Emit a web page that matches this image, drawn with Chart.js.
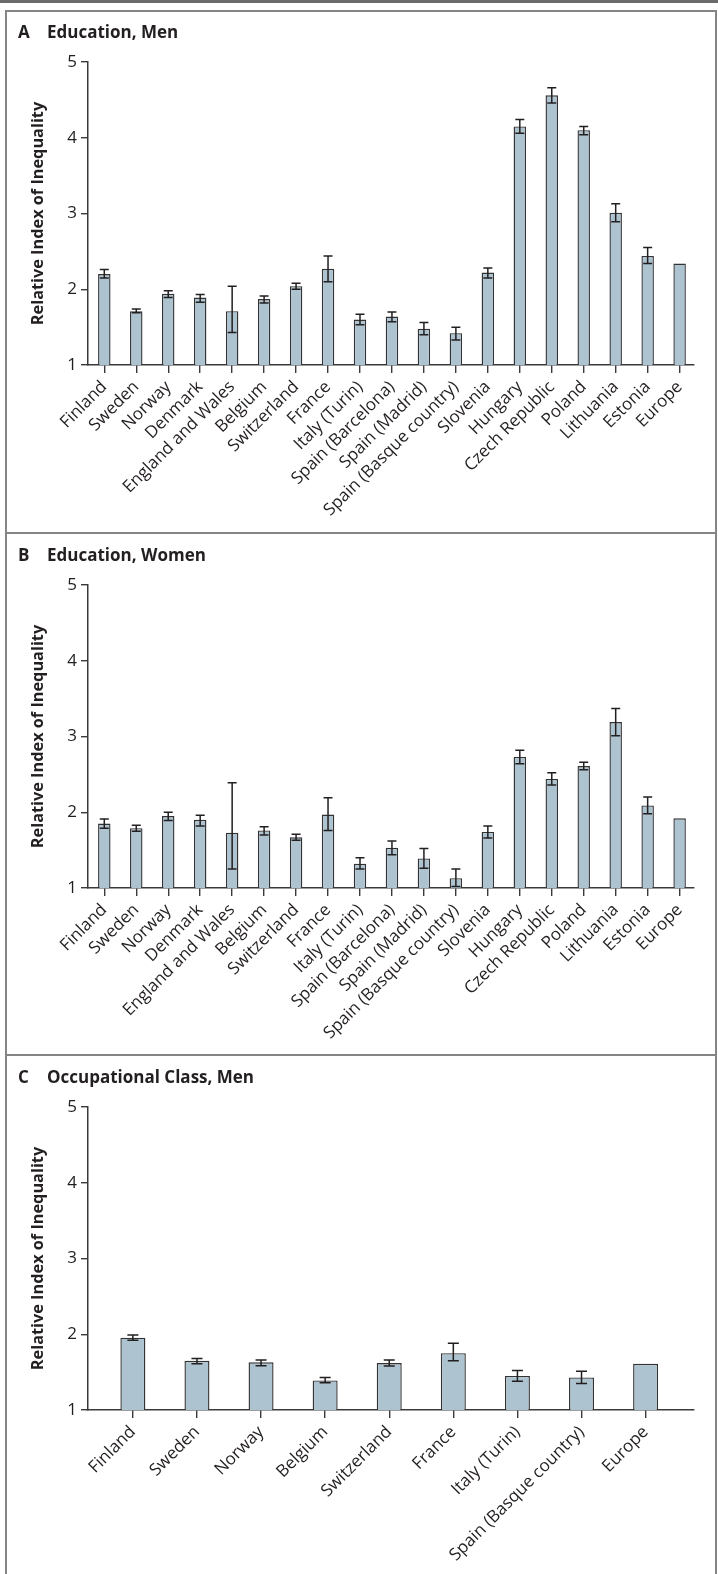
<!DOCTYPE html>
<html>
<head>
<meta charset="utf-8">
<script src="https://cdn.jsdelivr.net/npm/chart.js@4.4.1/dist/chart.umd.min.js"></script>
<style>
  html, body { margin:0; padding:0; background:#fff; }
  body { width:718px; height:1574px; position:relative; overflow:hidden; font-family:"Open Sans", sans-serif; color:#231f20; }
  .topline { position:absolute; left:0; top:0; width:718px; height:3px; background:#6b6b6b; }
  .frame { position:absolute; left:5px; top:10px; width:712px; height:1570px; box-sizing:border-box; border:2px solid #858585; border-bottom:none; }
  .divider { position:absolute; left:5px; width:712px; height:2px; background:#858585; }
  .panel { position:absolute; left:0; width:718px; }
  .panel canvas { position:absolute; left:0; top:0; }
  .title { position:absolute; top:11px; left:0; font-size:17px; font-weight:700; line-height:22px; white-space:nowrap; }
  .title .letter { position:absolute; left:18px; }
  .title .text { position:absolute; left:47px; }
</style>
</head>
<body>
<div class="topline"></div>
<div class="frame"></div>
<div class="divider" style="top:532px"></div>
<div class="divider" style="top:1054px"></div>

<div class="panel" style="top:10px;height:523px">
  <canvas id="chart-a" width="718" height="523"></canvas>
  <div class="title"><span class="letter">A</span><span class="text">Education, Men</span></div>
</div>
<div class="panel" style="top:533px;height:522px">
  <canvas id="chart-b" width="718" height="522"></canvas>
  <div class="title"><span class="letter">B</span><span class="text">Education, Women</span></div>
</div>
<div class="panel" style="top:1055px;height:519px">
  <canvas id="chart-c" width="718" height="519"></canvas>
  <div class="title"><span class="letter">C</span><span class="text">Occupational Class, Men</span></div>
</div>

<script>
// ── Data ────────────────────────────────────────────────────────────────────
const COUNTRIES_EDU = [
  "Finland","Sweden","Norway","Denmark","England and Wales","Belgium","Switzerland","France",
  "Italy (Turin)","Spain (Barcelona)","Spain (Madrid)","Spain (Basque country)","Slovenia",
  "Hungary","Czech Republic","Poland","Lithuania","Estonia","Europe"
];
const COUNTRIES_OCC = [
  "Finland","Sweden","Norway","Belgium","Switzerland","France","Italy (Turin)","Spain (Basque country)","Europe"
];
const Y_TICKS = [1, 2, 3, 4, 5];

// A. Education, men
const EDU_MEN     = [2.20,1.71,1.94,1.89,1.71,1.87,2.04,2.27,1.60,1.64,1.48,1.42,2.22,4.15,4.56,4.10,3.01,2.44,2.34];
const EDU_MEN_LO  = [2.15,1.69,1.89,1.83,1.43,1.82,2.00,2.10,1.53,1.57,1.40,1.33,2.15,4.06,4.46,4.04,2.89,2.34,null];
const EDU_MEN_HI  = [2.26,1.74,1.98,1.93,2.04,1.91,2.08,2.44,1.67,1.70,1.56,1.50,2.28,4.24,4.66,4.15,3.13,2.55,null];

// B. Education, women
const EDU_WOMEN    = [1.85,1.79,1.95,1.90,1.73,1.76,1.67,1.97,1.32,1.53,1.39,1.13,1.74,2.73,2.44,2.61,3.19,2.09,1.92];
const EDU_WOMEN_LO = [1.79,1.75,1.89,1.82,1.25,1.70,1.63,1.76,1.25,1.44,1.26,1.02,1.66,2.64,2.36,2.56,3.01,1.98,null];
const EDU_WOMEN_HI = [1.91,1.83,2.00,1.96,2.39,1.81,1.71,2.19,1.40,1.62,1.52,1.25,1.82,2.82,2.52,2.66,3.37,2.20,null];

// C. Occupational class, men
const OCC_MEN    = [1.955,1.65,1.63,1.39,1.62,1.75,1.45,1.43,1.61];
const OCC_MEN_LO = [1.92,1.61,1.585,1.36,1.58,1.65,1.38,1.35,null];
const OCC_MEN_HI = [1.99,1.68,1.66,1.43,1.66,1.88,1.52,1.51,null];

// ── Style ───────────────────────────────────────────────────────────────────
const INK = "#231f20";
const AXIS = "#3a3a3a";
const BAR_FILL = "#adc4d0";

Chart.defaults.font.family = "'Open Sans', sans-serif";
Chart.defaults.color = INK;

// error bars drawn through the y scale
const errorBars = {
  id: "errorBars",
  afterDatasetsDraw(chart, args, opts) {
    const { ctx } = chart;
    const y = chart.scales.y;
    const meta = chart.getDatasetMeta(0);
    ctx.save();
    ctx.strokeStyle = INK;
    ctx.lineWidth = 1.5;
    meta.data.forEach((bar, i) => {
      const lo = opts.lo[i], hi = opts.hi[i];
      if (lo == null || hi == null) return;
      const x = bar.x, y1 = y.getPixelForValue(lo), y2 = y.getPixelForValue(hi), w = opts.cap / 2;
      ctx.beginPath();
      ctx.moveTo(x, y1); ctx.lineTo(x, y2);
      ctx.moveTo(x - w, y1); ctx.lineTo(x + w, y1);
      ctx.moveTo(x - w, y2); ctx.lineTo(x + w, y2);
      ctx.stroke();
    });
    ctx.restore();
  }
};

function renderPanel(id, labels, values, lo, hi, xMin, xMax, cap) {
  const canvas = document.getElementById(id);
  const h = canvas.height;
  const areaBottom = 355;
  return new Chart(canvas.getContext("2d"), {
    type: "bar",
    data: {
      datasets: [{
        data: values.map((v, i) => ({ x: i, y: v })),
        backgroundColor: BAR_FILL,
        borderColor: "#333",
        borderWidth: 1.4,
        borderSkipped: false,
        categoryPercentage: 1,
        barPercentage: 0.39
      }]
    },
    plugins: [errorBars],
    options: {
      responsive: false,
      animation: false,
      layout: { padding: { top: 52, right: 24, left: 0, bottom: 0 } },
      plugins: {
        legend: { display: false },
        tooltip: { enabled: false },
        errorBars: { lo, hi, cap }
      },
      scales: {
        x: {
          type: "linear",
          min: xMin, max: xMax,
          offset: false,
          grid: { offset: false, drawOnChartArea: false, drawTicks: true, tickLength: 8, color: AXIS, lineWidth: 1.4 },
          border: { display: true, color: AXIS, width: 1.5 },
          afterBuildTicks: axis => { axis.ticks = labels.map((_, i) => ({ value: i })); },
          afterFit: axis => { axis.height = h - areaBottom; },
          ticks: {
            autoSkip: false, minRotation: 45, maxRotation: 45, padding: 4,
            font: { size: 17 }, color: INK,
            callback: v => labels[v] ?? ""
          }
        },
        y: {
          min: 1, max: 5,
          beginAtZero: false,
          afterBuildTicks: axis => { axis.ticks = Y_TICKS.map(v => ({ value: v })); },
          afterFit: axis => { axis.width = 88; },
          grid: { drawOnChartArea: false, drawTicks: true, tickLength: 7, color: AXIS, lineWidth: 1.4 },
          border: { display: true, color: AXIS, width: 1.5 },
          ticks: { font: { size: 17 }, color: INK, padding: 4 },
          title: {
            display: true,
            text: "Relative Index of Inequality",
            font: { size: 16.3, weight: "700" },
            color: INK,
            padding: { top: 29, bottom: 0 }
          }
        }
      }
    }
  });
}

renderPanel("chart-a", COUNTRIES_EDU, EDU_MEN, EDU_MEN_LO, EDU_MEN_HI, -0.51, 18.45, 9);
renderPanel("chart-b", COUNTRIES_EDU, EDU_WOMEN, EDU_WOMEN_LO, EDU_WOMEN_HI, -0.51, 18.45, 9);
renderPanel("chart-c", COUNTRIES_OCC, OCC_MEN, OCC_MEN_LO, OCC_MEN_HI, -0.70, 8.755, 11);
</script>
</body>
</html>
